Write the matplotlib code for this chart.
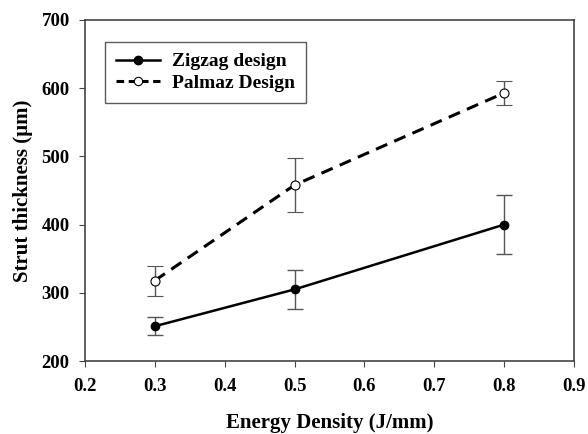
import matplotlib.pyplot as plt
from matplotlib.lines import Line2D

plt.rcParams['font.family'] = ['Liberation Serif', 'DejaVu Serif']
plt.rcParams['font.weight'] = 'bold'

energy = [0.3, 0.5, 0.8]
zigzag = [251, 305, 400]
zigzag_err = [13, 29, 43]
palmaz = [318, 458, 593]
palmaz_err = [22, 39, 17]

fig = plt.figure(figsize=(5.88, 4.34), dpi=100)
ax = fig.add_axes([85 / 588, 1 - 361 / 434, 489 / 588, 341 / 434])

ax.errorbar(energy, zigzag, yerr=zigzag_err, color='black', lw=1.8, marker='o',
            ms=6, mfc='black', mec='black', ecolor='#555555', elinewidth=1,
            capsize=6, capthick=1, zorder=3)
ax.errorbar(energy, palmaz, yerr=palmaz_err, color='black', lw=2.2, ls=(0, (4, 2.5)),
            marker='o', ms=6.5, mfc='white', mec='black', mew=0.8, ecolor='#555555',
            elinewidth=1, capsize=6, capthick=1, zorder=3)

ax.set_xlim(0.2, 0.9)
ax.set_ylim(200, 700)
ax.set_xticks([0.2, 0.3, 0.4, 0.5, 0.6, 0.7, 0.8, 0.9])
ax.set_yticks([200, 300, 400, 500, 600, 700])
ax.tick_params(direction='out', length=4, labelsize=13.5, color='#444444')
ax.tick_params(axis='x', pad=8)
ax.tick_params(axis='y', pad=7)
for s in ax.spines.values():
    s.set_color('#444444')
    s.set_linewidth(1.2)

ax.set_xlabel('Energy Density (J/mm)', fontsize=15, fontweight='bold', labelpad=13)
ax.set_ylabel('Strut thickness (µm)', fontsize=15, fontweight='bold', labelpad=6)

handles = [
    Line2D([], [], color='black', lw=1.8, marker='o', ms=6, mfc='black'),
    Line2D([], [], color='black', lw=2.2, ls=(0, (2.5, 1.5)), marker='o', ms=6,
           mfc='white', mew=0.8),
]
leg = ax.legend(handles, ['Zigzag design', 'Palmaz Design'], loc='upper left',
                bbox_to_anchor=(0.041, 0.935), borderaxespad=0, fontsize=14,
                frameon=True, fancybox=False, edgecolor='#333333', handlelength=2.3,
                borderpad=0.55, labelspacing=0.2, handletextpad=0.6)
leg.get_frame().set_linewidth(1.0)

fig.savefig('out.png', dpi=100)
